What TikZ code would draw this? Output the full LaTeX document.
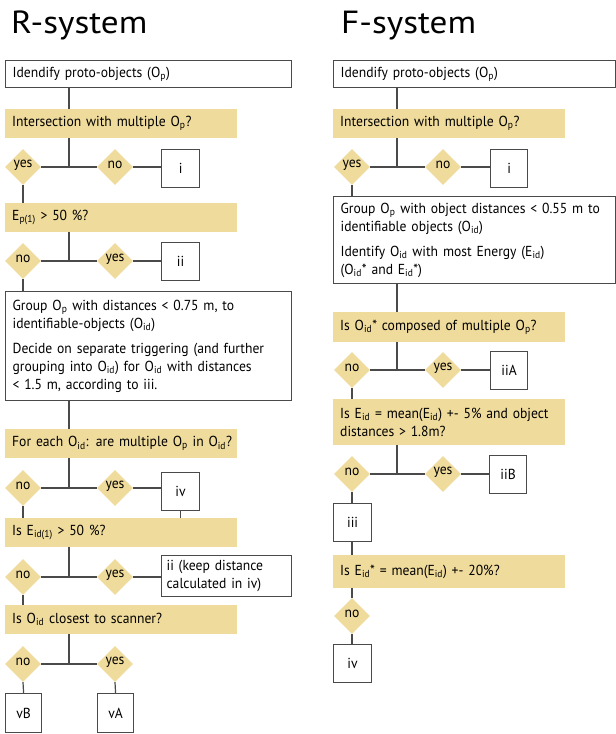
\documentclass[tikz,border=0pt]{standalone}
\usepackage{fontspec}
\setmainfont{PT Sans}[FakeStretch=0.94]
\newfontfamily\titlefont{PT Sans}[FakeStretch=1.1]
\usetikzlibrary{shapes.geometric}
\definecolor{qyellow}{HTML}{EFDB9B}
\definecolor{lgray}{HTML}{4A4A4A}
\newcommand\sbs[1]{\textsubscript{#1}}
\begin{document}
\begin{tikzpicture}[x=1pt,y=-1pt,
  txt/.style={font=\fontsize{14.5}{18}\selectfont},
  base/.style={txt, anchor=north west, inner xsep=7pt, inner ysep=0pt, align=left},
  plainbox/.style={base, draw=lgray, line width=1.2pt, fill=white},
  qbox/.style={base, fill=qyellow, text width=218pt, minimum height=29pt},
  sbox/.style={txt, anchor=north west, draw=lgray, line width=1.2pt, fill=white, inner sep=0pt, minimum width=38pt, minimum height=38pt},
  dia/.style={diamond, fill=qyellow, minimum width=36pt, minimum height=36pt, inner sep=0pt},
  dlab/.style={label={[txt, yshift=2pt]center:#1}},
  conn/.style={draw=lgray, line width=1.2pt},
  title/.style={anchor=base west, inner sep=0pt, font=\titlefont\fontsize{32}{36}\selectfont}
]
\useasboundingbox (0,0) rectangle (616,734);

% ---------------- R-system ----------------
\node[title] (rtitle) at (11,33) {R-system};
\coordinate (lj) at (69,0);

\node[plainbox, text width=272pt, minimum height=27pt] (rb1) at (5,60) {Idendify proto-objects (O\sbs{p})};
\node[qbox] (rq1) at (5,109) {Intersection with multiple O\sbs{p}?};
\coordinate (rj1) at (69,167);
\node[dia, dlab=yes] (rd1y) at (23,167) {};
\node[dia, dlab=no] (rd1n) at (115,167) {};
\node[sbox] (ri) at (161,149) {i};

\node[qbox] (rq2) at (5,203) {E\sbs{p(1)} > 50 \%?};
\coordinate (rj2) at (69,261);
\node[dia, dlab=no] (rd2n) at (23,261) {};
\node[dia, dlab=yes] (rd2y) at (115,261) {};
\node[sbox] (rii) at (161,242) {ii};

\node[plainbox, text width=272pt, minimum height=109pt] (rgrp) at (5,291)
  {Group O\sbs{p} with distances < 0.75 m, to\\
   identifiable-objects (O\sbs{id})\\[7pt]
   Decide on separate triggering (and further\\
   grouping into O\sbs{id}) for O\sbs{id} with distances\\
   < 1.5 m, according to iii.};

\node[qbox] (rq3) at (5,429) {\mbox{For each O\sbs{id}: are multiple O\sbs{p} in O\sbs{id}?}};
\coordinate (rj3) at (69,488);
\node[dia, dlab=no] (rd3n) at (23,488) {};
\node[dia, dlab=yes] (rd3y) at (115,488) {};
\node[sbox] (riv) at (161,472) {iv};

\node[qbox] (rq4) at (5,518) {Is E\sbs{id(1)} > 50 \%?};
\coordinate (rj4) at (69,577);
\node[dia, dlab=no] (rd4n) at (23,577) {};
\node[dia, dlab=yes] (rd4y) at (115,577) {};
\node[plainbox, inner xsep=5pt, text width=120pt, minimum height=41pt] (riik) at (161,555)
  {ii (keep distance\\ calculated in iv)};

\node[qbox] (rq5) at (5,605) {Is O\sbs{id} closest to scanner?};
\coordinate (rj5) at (69,664);
\node[dia, dlab=no] (rd5n) at (23,664) {};
\node[dia, dlab=yes] (rd5y) at (115,664) {};
\node[sbox, minimum width=36pt, minimum height=39pt] (rvb) at (5,693) {vB};
\node[sbox, minimum width=36pt, minimum height=39pt] (rva) at (97,693) {vA};

% R connectors
\draw[conn] (rb1.south -| lj) -- (rq1.north -| lj);
\draw[conn] (rq1.south -| lj) -- (rj1);
\draw[conn] (rd1y.east) -- (rd1n.west);
\draw[conn] (rd1n.east) -- (ri.west |- rd1n);
\draw[conn] (rd1y.south) -- (rq2.north -| rd1y);

\draw[conn] (rq2.south -| lj) -- (rj2);
\draw[conn] (rd2n.east) -- (rd2y.west);
\draw[conn] (rd2y.east) -- (rii.west |- rd2y);
\draw[conn] (rd2n.south) -- (rgrp.north -| rd2n);

\draw[conn] (rgrp.south -| lj) -- (rq3.north -| lj);
\draw[conn] (rq3.south -| lj) -- (rj3);
\draw[conn] (rd3n.east) -- (rd3y.west);
\draw[conn] (rd3y.east) -- (riv.west |- rd3y);
\draw[conn] (rd3n.south) -- (rq4.north -| rd3n);
\draw[conn] (riv.south) -- (rq4.north -| riv);

\draw[conn] (rq4.south -| lj) -- (rj4);
\draw[conn] (rd4n.east) -- (rd4y.west);
\draw[conn] (rd4y.east) -- (riik.west |- rd4y);
\draw[conn] (rd4n.south) -- (rq5.north -| rd4n);

\draw[conn] (rq5.south -| lj) -- (rj5);
\draw[conn] (rd5n.east) -- (rd5y.west);
\draw[conn] (rd5n.south) -- (rvb.north);
\draw[conn] (rd5y.south) -- (rva.north);

% ---------------- F-system ----------------
\node[title] (ftitle) at (341,33) {F-system};
\coordinate (fj) at (397,0);

\node[plainbox, text width=268pt, minimum height=27pt] (fb1) at (333,60) {Idendify proto-objects (O\sbs{p})};
\node[qbox] (fq1) at (333,109) {Intersection with multiple O\sbs{p}?};
\coordinate (fj1) at (397,167);
\node[dia, dlab=yes] (fd1y) at (352,167) {};
\node[dia, dlab=no] (fd1n) at (443,167) {};
\node[sbox, minimum width=37pt] (fi) at (490,149) {i};

\node[plainbox, text width=268pt, minimum height=87pt] (fgrp) at (333,196)
  {Group O\sbs{p} with object distances < 0.55 m to\\
   identifiable objects (O\sbs{id})\\[7pt]
   Identify O\sbs{id} with most Energy (E\sbs{id})\\
   (O\sbs{id}* and E\sbs{id}*)};

\node[qbox, minimum height=30pt] (fq2) at (333,312) {Is O\sbs{id}* composed of multiple O\sbs{p}?};
\coordinate (fj2) at (397,370);
\node[dia, dlab=no] (fd2n) at (352,370) {};
\node[dia, dlab=yes] (fd2y) at (443,370) {};
\node[sbox, minimum width=37pt] (fiia) at (490,351) {iiA};

\node[qbox, minimum height=46pt] (fq3) at (333,399)
  {Is E\sbs{id} = mean(E\sbs{id}) +- 5\% and object\\ distances > 1.8m?};
\coordinate (fj3) at (397,474);
\node[dia, dlab=no] (fd3n) at (352,474) {};
\node[dia, dlab=yes] (fd3y) at (443,474) {};
\node[sbox, minimum width=37pt] (fiib) at (489,455) {iiB};

\node[sbox] (fiii) at (333,503) {iii};
\node[qbox, minimum height=33pt] (fq4) at (333,555) {Is E\sbs{id}* = mean(E\sbs{id}) +- 20\%?};
\node[dia, dlab=no] (fd4n) at (352,616) {};
\node[sbox] (fiv) at (333,644) {iv};

% F connectors
\draw[conn] (fb1.south -| fj) -- (fq1.north -| fj);
\draw[conn] (fq1.south -| fj) -- (fj1);
\draw[conn] (fd1y.east) -- (fd1n.west);
\draw[conn] (fd1n.east) -- (fi.west |- fd1n);
\draw[conn] (fd1y.south) -- (fgrp.north -| fd1y);

\draw[conn] (fgrp.south -| fj) -- (fq2.north -| fj);
\draw[conn] (fq2.south -| fj) -- (fj2);
\draw[conn] (fd2n.east) -- (fd2y.west);
\draw[conn] (fd2y.east) -- (fiia.west |- fd2y);
\draw[conn] (fd2n.south) -- (fq3.north -| fd2n);

\draw[conn] (fq3.south -| fj) -- (fj3);
\draw[conn] (fd3n.east) -- (fd3y.west);
\draw[conn] (fd3y.east) -- (fiib.west |- fd3y);
\draw[conn] (fd3n.south) -- (fiii.north -| fd3n);

\draw[conn] (fiii.south -| fd4n) -- (fq4.north -| fd4n);
\draw[conn] (fq4.south -| fd4n) -- (fd4n.north);
\draw[conn] (fd4n.south) -- (fiv.north -| fd4n);
\end{tikzpicture}
\end{document}
